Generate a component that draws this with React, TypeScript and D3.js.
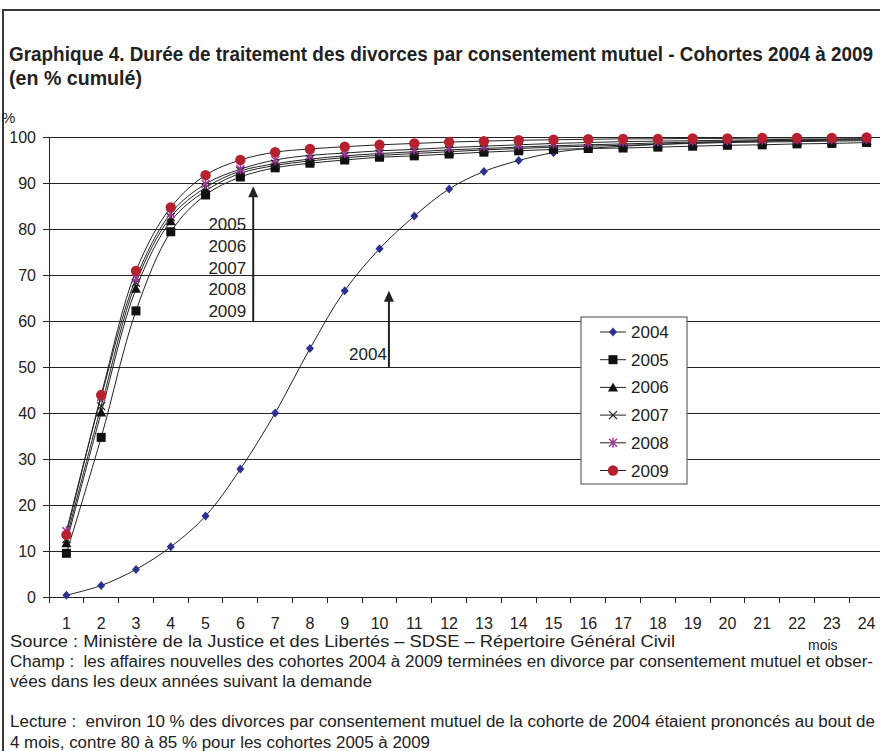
import React, { useEffect, useRef } from "react";
import * as d3 from "d3";

// categories (months) and tick values
const months = ["1", "2", "3", "4", "5", "6", "7", "8", "9", "10", "11", "12",
  "13", "14", "15", "16", "17", "18", "19", "20", "21", "22", "23", "24"];
const yTicks = [0, 10, 20, 30, 40, 50, 60, 70, 80, 90, 100];
const cohorts = ["2004", "2005", "2006", "2007", "2008", "2009"];

// cumulated % per cohort
const v2004 = [0.4, 2.5, 6.0, 10.9, 17.6, 27.8, 40.0, 54.0, 66.6, 75.7, 82.8, 88.7,
  92.5, 94.9, 96.6, 97.5, 98.0, 98.4, 98.7, 99.0, 99.2, 99.3, 99.5, 99.6];
const v2005 = [9.5, 34.7, 62.2, 79.4, 87.4, 91.3, 93.3, 94.3, 95.0, 95.6, 95.9, 96.3,
  96.7, 97.0, 97.3, 97.5, 97.6, 97.8, 98.0, 98.2, 98.3, 98.5, 98.6, 98.8];
const v2006 = [11.7, 40.1, 67.0, 81.7, 88.3, 92.1, 93.8, 94.8, 95.5, 96.0, 96.4, 96.8,
  97.2, 97.5, 97.8, 98.0, 98.2, 98.4, 98.6, 98.8, 98.9, 99.0, 99.1, 99.2];
const v2007 = [12.6, 41.5, 68.3, 82.6, 89.0, 92.6, 94.2, 95.2, 95.9, 96.4, 96.8, 97.2,
  97.5, 97.8, 98.1, 98.3, 98.5, 98.7, 98.9, 99.0, 99.1, 99.2, 99.3, 99.4];
const v2008 = [14.3, 43.5, 69.3, 83.4, 89.8, 93.0, 95.0, 96.0, 96.5, 97.0, 97.3, 97.7,
  98.0, 98.3, 98.6, 98.8, 99.0, 99.1, 99.2, 99.3, 99.4, 99.5, 99.5, 99.6];
const v2009 = [13.5, 43.9, 70.9, 84.7, 91.7, 95.0, 96.7, 97.4, 97.9, 98.3, 98.6, 98.9,
  99.1, 99.3, 99.4, 99.5, 99.6, 99.6, 99.7, 99.7, 99.8, 99.8, 99.8, 99.9];

const arrowLabels = ["2005", "2006", "2007", "2008", "2009"];

const titleLines = [
  "Graphique 4. Durée de traitement des divorces par consentement mutuel - Cohortes 2004 à 2009",
  "(en % cumulé)",
];

const FONT = "'Liberation Sans', Arial, sans-serif";

function drawMarker(g, type, color, cx, cy) {
  if (type === "diamond") {
    g.append("path").attr("d", `M${cx},${cy - 4.5}L${cx + 4},${cy}L${cx},${cy + 4.5}L${cx - 4},${cy}Z`)
      .attr("fill", color);
  } else if (type === "square") {
    g.append("rect").attr("x", cx - 4.5).attr("y", cy - 4.5).attr("width", 9).attr("height", 9)
      .attr("fill", color);
  } else if (type === "triangle") {
    g.append("path").attr("d", `M${cx},${cy - 5}L${cx + 5},${cy + 4}L${cx - 5},${cy + 4}Z`)
      .attr("fill", color);
  } else if (type === "x") {
    g.append("path").attr("d", `M${cx - 4},${cy - 4}L${cx + 4},${cy + 4}M${cx - 4},${cy + 4}L${cx + 4},${cy - 4}`)
      .attr("stroke", color).attr("stroke-width", 1.3).attr("fill", "none");
  } else if (type === "star") {
    g.append("path").attr("d", `M${cx - 4},${cy - 4}L${cx + 4},${cy + 4}M${cx - 4},${cy + 4}L${cx + 4},${cy - 4}M${cx},${cy - 5}L${cx},${cy + 5}`)
      .attr("stroke", color).attr("stroke-width", 1.5).attr("fill", "none");
  } else {
    g.append("circle").attr("cx", cx).attr("cy", cy).attr("r", 5.2)
      .attr("fill", color);
  }
}

function App() {
  const svgRef = useRef<SVGSVGElement>(null);

  useEffect(() => {
    const svg = d3.select(svgRef.current);
    svg.selectAll("*").remove();

    const series = [
      { name: cohorts[0], values: v2004, marker: "diamond", color: "#2B3192" },
      { name: cohorts[1], values: v2005, marker: "square", color: "#111" },
      { name: cohorts[2], values: v2006, marker: "triangle", color: "#111" },
      { name: cohorts[3], values: v2007, marker: "x", color: "#222" },
      { name: cohorts[4], values: v2008, marker: "star", color: "#A1379C" },
      { name: cohorts[5], values: v2009, marker: "circle", color: "#B5212F" },
    ];

    const x = d3.scaleBand().domain(months).range([49, 884]);
    const xPos = d3.scaleLinear().domain([0.5, 24.5]).range([49, 884]);
    const y = d3.scaleLinear().domain([0, 100]).range([597, 137]);
    const cx = (i) => x(months[i]) + x.bandwidth() / 2;

    // frame
    svg.append("rect")
      .attr("x", 3).attr("y", 10).attr("width", 900).attr("height", 800)
      .attr("fill", "none").attr("stroke", "#3a3a3a").attr("stroke-width", 2);

    // title
    svg.append("text").attr("x", 9).attr("y", 61)
      .attr("font-family", FONT).attr("font-weight", "bold").attr("font-size", 21)
      .attr("fill", "#222").attr("textLength", 864).attr("lengthAdjust", "spacingAndGlyphs")
      .text(titleLines[0]);
    svg.append("text").attr("x", 9).attr("y", 85)
      .attr("font-family", FONT).attr("font-weight", "bold").attr("font-size", 21)
      .attr("fill", "#222").attr("textLength", 133).attr("lengthAdjust", "spacingAndGlyphs")
      .text(titleLines[1]);

    svg.append("text").attr("x", 2).attr("y", 123)
      .attr("font-family", FONT).attr("font-size", 15).attr("fill", "#222").text("%");

    // gridlines
    svg.append("g").selectAll("line")
      .data(yTicks.filter(d => d > 0))
      .join("line")
      .attr("x1", 49).attr("x2", 884)
      .attr("y1", d => y(d)).attr("y2", d => y(d))
      .attr("stroke", "#222").attr("shape-rendering", "crispEdges");

    // Y axis
    const yAxis = svg.append("g")
      .attr("transform", "translate(49, 0)")
      .call(d3.axisLeft(y).tickValues(yTicks).tickSize(6).tickSizeOuter(0).tickPadding(7));
    yAxis.selectAll("path, line").attr("stroke", "#222").attr("shape-rendering", "crispEdges");
    yAxis.selectAll("text").attr("font-size", 16).attr("font-family", FONT).attr("fill", "#222");

    // X axis
    const xAxis = svg.append("g")
      .attr("transform", "translate(0, 597)")
      .call(d3.axisBottom(x).tickSize(0).tickSizeOuter(0).tickPadding(21));
    xAxis.select(".domain").attr("stroke", "#222").attr("shape-rendering", "crispEdges");
    xAxis.selectAll("text").attr("font-size", 16).attr("font-family", FONT).attr("fill", "#222");
    svg.append("g").selectAll("line")
      .data(months)
      .join("line")
      .attr("x1", d => x(d)).attr("x2", d => x(d))
      .attr("y1", 597).attr("y2", 603)
      .attr("stroke", "#222").attr("shape-rendering", "crispEdges");

    // lines
    const line = d3.line<number>()
      .x((d, i) => cx(i))
      .y(d => y(d))
      .curve(d3.curveCatmullRom.alpha(0.5));

    series.forEach(s => {
      svg.append("path")
        .attr("d", line(s.values))
        .attr("fill", "none").attr("stroke", "#222").attr("stroke-width", 1);
    });
    series.forEach(s => {
      const g = svg.append("g");
      s.values.forEach((v, i) => drawMarker(g, s.marker, s.color, cx(i), y(v)));
    });

    // annotation arrows
    const arrow = (month, from, to) => {
      const ax = xPos(month);
      svg.append("line")
        .attr("x1", ax).attr("x2", ax).attr("y1", y(from)).attr("y2", y(to) + 10)
        .attr("stroke", "#222").attr("stroke-width", 2);
      svg.append("path")
        .attr("d", `M${ax},${y(to)}L${ax + 5},${y(to) + 11}L${ax - 5},${y(to) + 11}Z`)
        .attr("fill", "#222");
      return ax;
    };
    const a1 = arrow(6.37, 60, 89.3);
    arrowLabels.forEach((t, i) => {
      svg.append("text")
        .attr("x", a1 - 7).attr("y", y(60) - 4 - (arrowLabels.length - 1 - i) * 21.7)
        .attr("text-anchor", "end")
        .attr("font-family", FONT).attr("font-size", 17).attr("fill", "#222")
        .text(t);
    });
    const a2 = arrow(10.27, 50, 66.6);
    svg.append("text")
      .attr("x", a2 - 2).attr("y", y(50) - 7)
      .attr("text-anchor", "end")
      .attr("font-family", FONT).attr("font-size", 17).attr("fill", "#222")
      .text(cohorts[0]);

    // legend
    const legend = svg.append("g");
    legend.append("rect")
      .attr("x", 581).attr("y", 317).attr("width", 106).attr("height", 167)
      .attr("fill", "#fff").attr("stroke", "#666").attr("stroke-width", 1.2);
    series.forEach((s, i) => {
      const ly = 332 + i * 27.7;
      legend.append("line")
        .attr("x1", 600).attr("x2", 626).attr("y1", ly).attr("y2", ly)
        .attr("stroke", "#222");
      drawMarker(legend, s.marker, s.color, 613, ly);
      legend.append("text")
        .attr("x", 631).attr("y", ly + 6)
        .attr("font-family", FONT).attr("font-size", 17).attr("fill", "#222")
        .text(s.name);
    });

    // notes
    const notes = [
      { t: "Source : Ministère de la Justice et des Libertés – SDSE – Répertoire Général Civil", y: 647, len: 665 },
      { t: "Champ :  les affaires nouvelles des cohortes 2004 à 2009 terminées en divorce par consentement mutuel et obser-", y: 667, len: 863 },
      { t: "vées dans les deux années suivant la demande", y: 687, len: 362 },
      { t: "Lecture :  environ 10 % des divorces par consentement mutuel de la cohorte de 2004 étaient prononcés au bout de", y: 727, len: 865 },
      { t: "4 mois, contre 80 à 85 % pour les cohortes 2005 à 2009", y: 748, len: 420 },
    ];
    notes.forEach(n => {
      svg.append("text")
        .attr("x", 10).attr("y", n.y)
        .attr("font-family", FONT).attr("font-size", 16).attr("fill", "#222")
        .attr("textLength", n.len).attr("lengthAdjust", "spacingAndGlyphs")
        .style("white-space", "pre")
        .text(n.t);
    });
    svg.append("text")
      .attr("x", 808).attr("y", 650)
      .attr("font-family", FONT).attr("font-size", 14).attr("fill", "#222")
      .text("mois");
  }, []);

  return (
    <svg ref={svgRef} width="880" height="751"
      style={{ position: "absolute", left: 0, top: 0, background: "#fff" }}></svg>
  );
}

export default App;
